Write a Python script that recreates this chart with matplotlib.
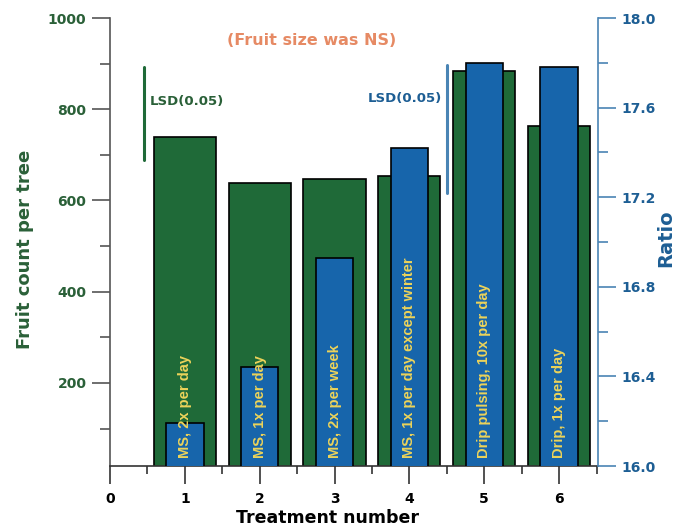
import matplotlib
matplotlib.use("Agg")
import matplotlib.pyplot as plt
import numpy as np
from matplotlib.ticker import MultipleLocator

plt.rcParams['font.family'] = ['DejaVu Sans']
plt.rcParams['font.weight'] = 'bold'

treatments = [1, 2, 3, 4, 5, 6]
fruit_count = [739, 638, 647, 654, 884, 763]
ratio = [16.19, 16.44, 16.93, 17.42, 17.80, 17.78]
bar_labels = ["MS, 2x per day", "MS, 1x per day", "MS, 2x per week",
              "MS, 1x per day except winter", "Drip pulsing, 10x per day",
              "Drip, 1x per day"]
lsd_fruit = (689, 893)
lsd_ratio = (17.22, 17.79)

GREEN = '#1f6a38'
BLUE = '#1765ab'
DKGREEN = '#2a6038'
DKBLUE = '#1d5e94'
SPBLUE = '#4a84b4'
GRAY = '#555555'

fig = plt.figure(figsize=(6.85, 5.29), dpi=100)
ax1 = fig.add_axes([110/685, 1-466/529, 488/685, 448/529])
ax2 = ax1.twinx()

ax1.bar(treatments, fruit_count, width=0.83, color=GREEN, edgecolor='black', linewidth=1.2, zorder=2)
ax2.bar(treatments, ratio, width=0.50, color=BLUE, edgecolor='black', linewidth=1.2, zorder=2)

ax1.set_xlim(0, 6.52)
ax1.set_ylim(18, 1000)
ax2.set_ylim(16.0, 18.0)

# LSD bars
ax1.plot([0.455, 0.455], lsd_fruit, color=GREEN, lw=2.2, solid_capstyle='round', zorder=3)
ax1.text(0.53, 818, "LSD(0.05)", color=DKGREEN, fontsize=9.5, fontweight='bold', va='center', ha='left')
ax2.plot([4.5, 4.5], lsd_ratio, color=SPBLUE, lw=2.2, solid_capstyle='round', zorder=3)
ax2.text(4.44, 17.64, "LSD(0.05)", color=DKBLUE, fontsize=9.5, fontweight='bold', va='center', ha='right')

# Bar labels
for x, lab in zip(treatments, bar_labels):
    ax2.text(x, 16.035, lab, rotation=90, ha='center', va='bottom', color='#ecd35a',
             fontsize=10.5, fontweight='bold', zorder=5, family=['Liberation Sans', 'DejaVu Sans'])

# Title note
ax1.text(0.413, 0.95, "(Fruit size was NS)", transform=ax1.transAxes, color='#e68a64',
         fontsize=11.5, fontweight='bold', ha='center', va='center')

# Spines
for ax in (ax1, ax2):
    ax.spines['top'].set_visible(False)
ax1.spines['right'].set_visible(False)
ax2.spines['left'].set_visible(False)
ax2.spines['bottom'].set_visible(False)
ax1.spines['left'].set_color(GRAY)
ax1.spines['bottom'].set_color('#333333')
ax2.spines['right'].set_color(SPBLUE)
for sp in ('left', 'bottom'):
    ax1.spines[sp].set_linewidth(1.2)
ax2.spines['right'].set_linewidth(1.2)

# Ticks
ax1.set_xticks(range(0, 7))
ax1.set_xticklabels([str(i) for i in range(0, 7)])
ax1.xaxis.set_minor_locator(MultipleLocator(0.5))
ax1.set_yticks([200, 400, 600, 800, 1000])
ax1.yaxis.set_minor_locator(MultipleLocator(100))
ax1.tick_params(axis='x', which='major', length=13, width=1.2, color='#333333', labelsize=10, pad=6, labelcolor='black')
ax1.tick_params(axis='x', which='minor', length=6, width=1.2, color='#333333')
ax1.tick_params(axis='y', which='major', length=13, width=1.2, color=GRAY, labelsize=10, labelcolor=DKGREEN, pad=4)
ax1.tick_params(axis='y', which='minor', length=7, width=1.2, color=GRAY)

ax2.set_yticks([16.0, 16.4, 16.8, 17.2, 17.6, 18.0])
ax2.set_yticklabels(['16.0', '16.4', '16.8', '17.2', '17.6', '18.0'])
ax2.yaxis.set_minor_locator(MultipleLocator(0.2))
ax2.tick_params(axis='y', which='major', length=13, width=1.2, color=SPBLUE, labelsize=10, labelcolor=DKBLUE, pad=4)
ax2.tick_params(axis='y', which='minor', length=7, width=1.2, color=SPBLUE)

for lab in ax1.get_xticklabels() + ax1.get_yticklabels() + ax2.get_yticklabels():
    lab.set_fontweight('bold')

ax1.set_xlabel("Treatment number", fontsize=12.5, fontweight='bold', color='black')
ax1.set_ylabel("Fruit count per tree", fontsize=13, fontweight='bold', color=DKGREEN)
ax2.set_ylabel("Ratio", fontsize=14, fontweight='bold', color=DKBLUE)
ax1.xaxis.set_label_coords((328-110)/488, -(509-466)/448)
ax1.yaxis.set_label_coords(-(110-34)/488, (466-249)/448)
ax2.yaxis.set_label_coords((656-110)/488, (466-238)/448)

ax1.set_zorder(1)
ax2.set_zorder(2)
ax1.patch.set_visible(False)
ax2.patch.set_visible(False)

fig.savefig("out.png", dpi=100)
